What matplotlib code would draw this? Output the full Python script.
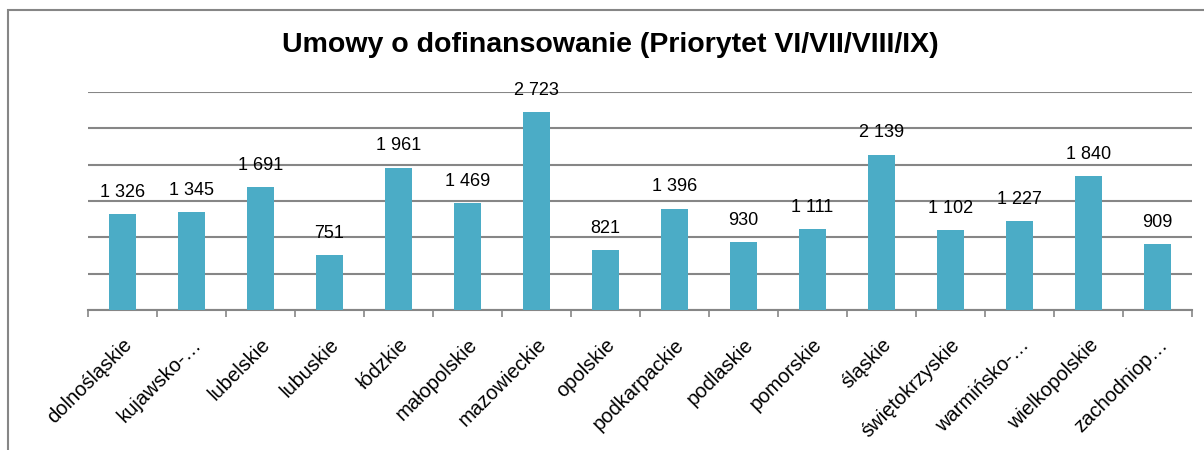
import matplotlib.pyplot as plt
from matplotlib.patches import Rectangle

plt.rcParams['font.family'] = ['Liberation Sans', 'DejaVu Sans']

regions = ['dolnośląskie', 'kujawsko-…', 'lubelskie', 'lubuskie', 'łódzkie',
           'małopolskie', 'mazowieckie', 'opolskie', 'podkarpackie', 'podlaskie',
           'pomorskie', 'śląskie', 'świętokrzyskie', 'warmińsko-…',
           'wielkopolskie', 'zachodniop…']
umowy = [1326, 1345, 1691, 751, 1961, 1469, 2723, 821, 1396, 930,
         1111, 2139, 1102, 1227, 1840, 909]

grid_color = '#868686'
bar_color = '#4BACC6'

fig = plt.figure(figsize=(12.04, 4.5), dpi=100)
ax = fig.add_axes([88 / 1204, 140 / 450, (1192 - 88) / 1204, (310 - 92) / 450])

# ramka wykresu
fig.patches.append(Rectangle((8 / 1204, -0.1), 1.2, 0.1 + 440 / 450,
                             transform=fig.transFigure, fill=False,
                             edgecolor=grid_color, linewidth=1.5))

x = list(range(len(regions)))
bars = ax.bar(x, umowy, width=0.4, color=bar_color, zorder=3)

for xi, v in zip(x, umowy):
    txt = '{:,}'.format(v).replace(',', ' ')
    ax.text(xi, v + 180, txt, ha='center', va='bottom', fontsize=13, color='black')

ax.set_xlim(-0.5, len(regions) - 0.5)
ax.set_ylim(0, 3000)
ax.set_yticks(range(0, 3001, 500))
ax.yaxis.grid(True, color=grid_color, linewidth=1.5, zorder=0)
ax.tick_params(axis='y', left=False, labelleft=False)

for s in ['top', 'right', 'left']:
    ax.spines[s].set_visible(False)
ax.spines['bottom'].set_color(grid_color)
ax.spines['bottom'].set_linewidth(1.5)

# podzialki miedzy kategoriami, etykiety na srodku
ax.set_xticks([i - 0.5 for i in range(len(regions) + 1)], minor=False)
ax.set_xticklabels([])
ax.tick_params(axis='x', length=5, width=1.2, color=grid_color, direction='out')
ax.set_xticks(x, minor=True)
ax.set_xticklabels(regions, minor=True, rotation=45, ha='right',
                   rotation_mode='anchor', fontsize=14.5)
ax.tick_params(axis='x', which='minor', length=0, pad=18)

fig.text(610 / 1204, 1 - 45 / 450, 'Umowy o dofinansowanie (Priorytet VI/VII/VIII/IX)',
         ha='center', va='center', fontsize=20.5, fontweight='bold')

fig.savefig('out.png', dpi=100)
